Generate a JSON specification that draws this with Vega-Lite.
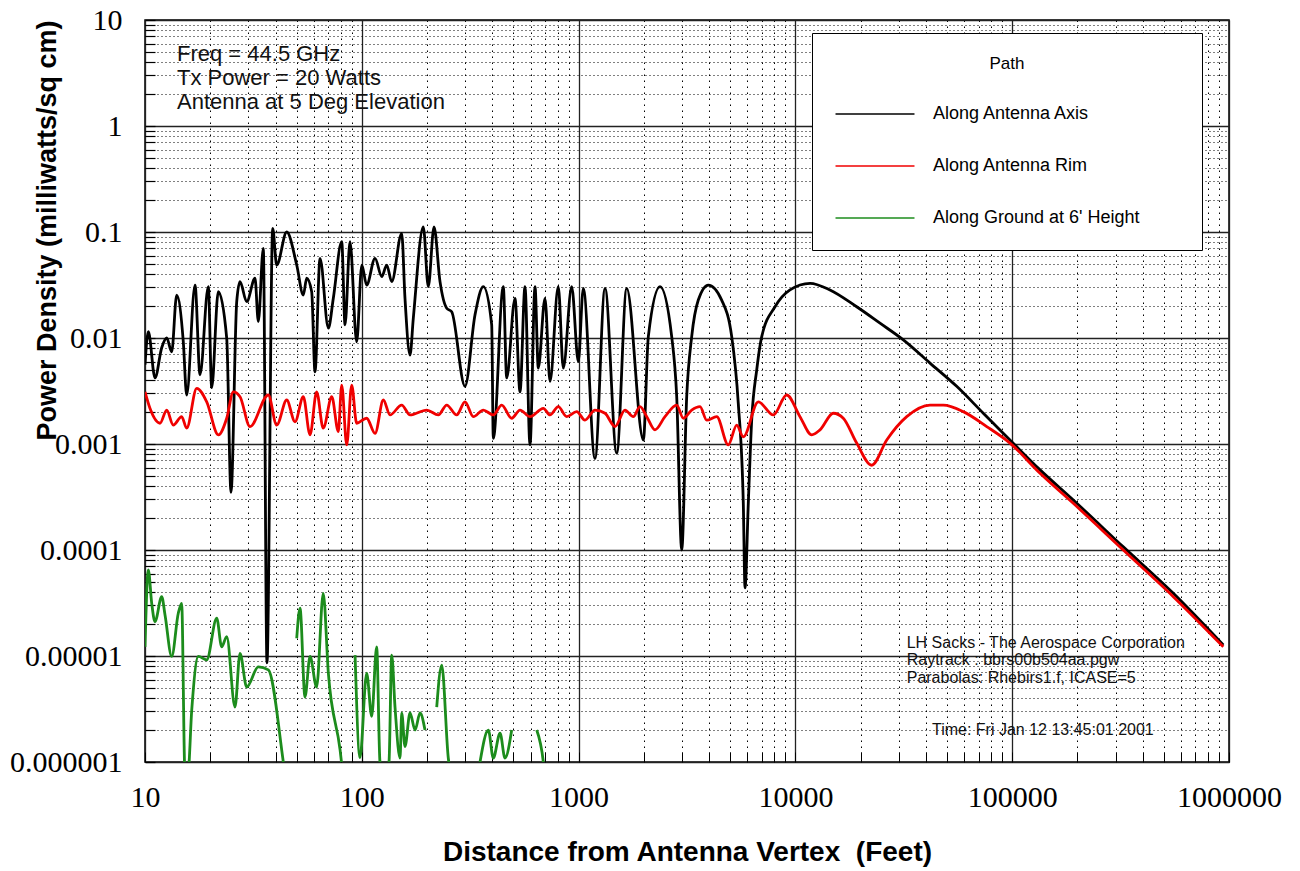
{
  "$schema": "https://vega.github.io/schema/vega-lite/v6.json",
  "width": 1084,
  "height": 742,
  "autosize": {"type": "none"},
  "padding": {"left": 145, "top": 20, "right": 71, "bottom": 109},
  "background": "white",
  "config": {"view": {"stroke": "black", "strokeWidth": 1.5}, "font": "Liberation Sans"},
  "datasets": {
    "curves": [
      {"series": "Along Antenna Axis", "seg": "a", "x": 10, "y": 0.0056},
      {"series": "Along Antenna Axis", "seg": "a", "x": 10.36, "y": 0.0115},
      {"series": "Along Antenna Axis", "seg": "a", "x": 11.12, "y": 0.0042},
      {"series": "Along Antenna Axis", "seg": "a", "x": 11.94, "y": 0.0081},
      {"series": "Along Antenna Axis", "seg": "a", "x": 12.59, "y": 0.01},
      {"series": "Along Antenna Axis", "seg": "a", "x": 13.28, "y": 0.0074},
      {"series": "Along Antenna Axis", "seg": "a", "x": 14.0, "y": 0.0254},
      {"series": "Along Antenna Axis", "seg": "a", "x": 15.02, "y": 0.0092},
      {"series": "Along Antenna Axis", "seg": "a", "x": 15.57, "y": 0.0029},
      {"series": "Along Antenna Axis", "seg": "a", "x": 17.01, "y": 0.0316},
      {"series": "Along Antenna Axis", "seg": "a", "x": 17.94, "y": 0.0045},
      {"series": "Along Antenna Axis", "seg": "a", "x": 19.59, "y": 0.0305},
      {"series": "Along Antenna Axis", "seg": "a", "x": 20.31, "y": 0.0034},
      {"series": "Along Antenna Axis", "seg": "a", "x": 21.78, "y": 0.0273},
      {"series": "Along Antenna Axis", "seg": "a", "x": 23.82, "y": 0.0099},
      {"series": "Along Antenna Axis", "seg": "a", "x": 24.93, "y": 0.00035},
      {"series": "Along Antenna Axis", "seg": "a", "x": 26.49, "y": 0.022},
      {"series": "Along Antenna Axis", "seg": "a", "x": 27.43, "y": 0.034},
      {"series": "Along Antenna Axis", "seg": "a", "x": 29.45, "y": 0.022},
      {"series": "Along Antenna Axis", "seg": "a", "x": 32.17, "y": 0.0366},
      {"series": "Along Antenna Axis", "seg": "a", "x": 33.31, "y": 0.0143},
      {"series": "Along Antenna Axis", "seg": "a", "x": 35.13, "y": 0.0702},
      {"series": "Along Antenna Axis", "seg": "a", "x": 36.53, "y": 0.0000086},
      {"series": "Along Antenna Axis", "seg": "a", "x": 38.82, "y": 0.108},
      {"series": "Along Antenna Axis", "seg": "a", "x": 40.5, "y": 0.0488},
      {"series": "Along Antenna Axis", "seg": "a", "x": 45.04, "y": 0.1},
      {"series": "Along Antenna Axis", "seg": "a", "x": 50.1, "y": 0.0488},
      {"series": "Along Antenna Axis", "seg": "a", "x": 53.73, "y": 0.0254},
      {"series": "Along Antenna Axis", "seg": "a", "x": 55.7, "y": 0.0366},
      {"series": "Along Antenna Axis", "seg": "a", "x": 58.73, "y": 0.0273},
      {"series": "Along Antenna Axis", "seg": "a", "x": 60.83, "y": 0.0048},
      {"series": "Along Antenna Axis", "seg": "a", "x": 64.17, "y": 0.0565},
      {"series": "Along Antenna Axis", "seg": "a", "x": 70.1, "y": 0.0124},
      {"series": "Along Antenna Axis", "seg": "a", "x": 73.9, "y": 0.0237},
      {"series": "Along Antenna Axis", "seg": "a", "x": 80.8, "y": 0.081},
      {"series": "Along Antenna Axis", "seg": "a", "x": 83.7, "y": 0.0133},
      {"series": "Along Antenna Axis", "seg": "a", "x": 88.2, "y": 0.081},
      {"series": "Along Antenna Axis", "seg": "a", "x": 94.7, "y": 0.0092},
      {"series": "Along Antenna Axis", "seg": "a", "x": 100, "y": 0.0488},
      {"series": "Along Antenna Axis", "seg": "a", "x": 105.3, "y": 0.0316},
      {"series": "Along Antenna Axis", "seg": "a", "x": 115.1, "y": 0.0565},
      {"series": "Along Antenna Axis", "seg": "a", "x": 123.6, "y": 0.0379},
      {"series": "Along Antenna Axis", "seg": "a", "x": 130.3, "y": 0.0488},
      {"series": "Along Antenna Axis", "seg": "a", "x": 137.4, "y": 0.034},
      {"series": "Along Antenna Axis", "seg": "a", "x": 152.8, "y": 0.0972},
      {"series": "Along Antenna Axis", "seg": "a", "x": 158.2, "y": 0.0237},
      {"series": "Along Antenna Axis", "seg": "a", "x": 166.9, "y": 0.0069},
      {"series": "Along Antenna Axis", "seg": "a", "x": 172.8, "y": 0.0153},
      {"series": "Along Antenna Axis", "seg": "a", "x": 192.2, "y": 0.112},
      {"series": "Along Antenna Axis", "seg": "a", "x": 202.6, "y": 0.0305},
      {"series": "Along Antenna Axis", "seg": "a", "x": 215.3, "y": 0.112},
      {"series": "Along Antenna Axis", "seg": "a", "x": 229.5, "y": 0.034},
      {"series": "Along Antenna Axis", "seg": "a", "x": 246.4, "y": 0.0191},
      {"series": "Along Antenna Axis", "seg": "a", "x": 259.8, "y": 0.0177},
      {"series": "Along Antenna Axis", "seg": "a", "x": 299.2, "y": 0.0035},
      {"series": "Along Antenna Axis", "seg": "a", "x": 332.7, "y": 0.0165},
      {"series": "Along Antenna Axis", "seg": "a", "x": 363.4, "y": 0.0305},
      {"series": "Along Antenna Axis", "seg": "a", "x": 397.3, "y": 0.0133},
      {"series": "Along Antenna Axis", "seg": "a", "x": 404.2, "y": 0.00113},
      {"series": "Along Antenna Axis", "seg": "a", "x": 449.4, "y": 0.0305},
      {"series": "Along Antenna Axis", "seg": "a", "x": 466, "y": 0.0042},
      {"series": "Along Antenna Axis", "seg": "a", "x": 508.9, "y": 0.0237},
      {"series": "Along Antenna Axis", "seg": "a", "x": 536.7, "y": 0.0031},
      {"series": "Along Antenna Axis", "seg": "a", "x": 565.9, "y": 0.0305},
      {"series": "Along Antenna Axis", "seg": "a", "x": 596.9, "y": 0.00098},
      {"series": "Along Antenna Axis", "seg": "a", "x": 629.4, "y": 0.0305},
      {"series": "Along Antenna Axis", "seg": "a", "x": 651.8, "y": 0.0052},
      {"series": "Along Antenna Axis", "seg": "a", "x": 699.8, "y": 0.0237},
      {"series": "Along Antenna Axis", "seg": "a", "x": 738, "y": 0.0039},
      {"series": "Along Antenna Axis", "seg": "a", "x": 806, "y": 0.0305},
      {"series": "Along Antenna Axis", "seg": "a", "x": 850, "y": 0.0052},
      {"series": "Along Antenna Axis", "seg": "a", "x": 929.3, "y": 0.0305},
      {"series": "Along Antenna Axis", "seg": "a", "x": 996.8, "y": 0.006},
      {"series": "Along Antenna Axis", "seg": "a", "x": 1051, "y": 0.0294},
      {"series": "Along Antenna Axis", "seg": "a", "x": 1190, "y": 0.00073},
      {"series": "Along Antenna Axis", "seg": "a", "x": 1324, "y": 0.0294},
      {"series": "Along Antenna Axis", "seg": "a", "x": 1499, "y": 0.00082},
      {"series": "Along Antenna Axis", "seg": "a", "x": 1667, "y": 0.0294},
      {"series": "Along Antenna Axis", "seg": "a", "x": 1989, "y": 0.00109},
      {"series": "Along Antenna Axis", "seg": "a", "x": 2097, "y": 0.0103},
      {"series": "Along Antenna Axis", "seg": "a", "x": 2374, "y": 0.0305},
      {"series": "Along Antenna Axis", "seg": "a", "x": 2688, "y": 0.0103},
      {"series": "Along Antenna Axis", "seg": "a", "x": 2835, "y": 0.00279},
      {"series": "Along Antenna Axis", "seg": "a", "x": 2990, "y": 0.0001},
      {"series": "Along Antenna Axis", "seg": "a", "x": 3152, "y": 0.00279},
      {"series": "Along Antenna Axis", "seg": "a", "x": 3324, "y": 0.0103},
      {"series": "Along Antenna Axis", "seg": "a", "x": 3565, "y": 0.0228},
      {"series": "Along Antenna Axis", "seg": "a", "x": 3965, "y": 0.0316},
      {"series": "Along Antenna Axis", "seg": "a", "x": 4571, "y": 0.0228},
      {"series": "Along Antenna Axis", "seg": "a", "x": 5085, "y": 0.0103},
      {"series": "Along Antenna Axis", "seg": "a", "x": 5452, "y": 0.00242},
      {"series": "Along Antenna Axis", "seg": "a", "x": 5750, "y": 0.000276},
      {"series": "Along Antenna Axis", "seg": "a", "x": 5856, "y": 0.000044},
      {"series": "Along Antenna Axis", "seg": "a", "x": 6064, "y": 0.000276},
      {"series": "Along Antenna Axis", "seg": "a", "x": 6286, "y": 0.00168},
      {"series": "Along Antenna Axis", "seg": "a", "x": 6630, "y": 0.00499},
      {"series": "Along Antenna Axis", "seg": "a", "x": 6993, "y": 0.0103},
      {"series": "Along Antenna Axis", "seg": "a", "x": 8053, "y": 0.0197},
      {"series": "Along Antenna Axis", "seg": "a", "x": 9443, "y": 0.0284},
      {"series": "Along Antenna Axis", "seg": "a", "x": 11680, "y": 0.0328},
      {"series": "Along Antenna Axis", "seg": "a", "x": 14440, "y": 0.0284},
      {"series": "Along Antenna Axis", "seg": "a", "x": 19170, "y": 0.0197},
      {"series": "Along Antenna Axis", "seg": "a", "x": 24560, "y": 0.0138},
      {"series": "Along Antenna Axis", "seg": "a", "x": 31460, "y": 0.0096},
      {"series": "Along Antenna Axis", "seg": "a", "x": 41770, "y": 0.0058},
      {"series": "Along Antenna Axis", "seg": "a", "x": 55460, "y": 0.0035},
      {"series": "Along Antenna Axis", "seg": "a", "x": 73570, "y": 0.00195},
      {"series": "Along Antenna Axis", "seg": "a", "x": 99470, "y": 0.00105},
      {"series": "Along Antenna Axis", "seg": "a", "x": 134400, "y": 0.00057},
      {"series": "Along Antenna Axis", "seg": "a", "x": 191300, "y": 0.000296},
      {"series": "Along Antenna Axis", "seg": "a", "x": 325400, "y": 0.000107},
      {"series": "Along Antenna Axis", "seg": "a", "x": 553500, "y": 0.000039},
      {"series": "Along Antenna Axis", "seg": "a", "x": 941300, "y": 0.0000127},

      {"series": "Along Antenna Rim", "seg": "r", "x": 10, "y": 0.0031},
      {"series": "Along Antenna Rim", "seg": "r", "x": 10.54, "y": 0.00217},
      {"series": "Along Antenna Rim", "seg": "r", "x": 11.73, "y": 0.00157},
      {"series": "Along Antenna Rim", "seg": "r", "x": 12.59, "y": 0.00209},
      {"series": "Along Antenna Rim", "seg": "r", "x": 13.5, "y": 0.00151},
      {"series": "Along Antenna Rim", "seg": "r", "x": 14.76, "y": 0.00181},
      {"series": "Along Antenna Rim", "seg": "r", "x": 15.57, "y": 0.00141},
      {"series": "Along Antenna Rim", "seg": "r", "x": 17.32, "y": 0.00335},
      {"series": "Along Antenna Rim", "seg": "r", "x": 19.26, "y": 0.0025},
      {"series": "Along Antenna Rim", "seg": "r", "x": 21.78, "y": 0.00122},
      {"series": "Along Antenna Rim", "seg": "r", "x": 23.82, "y": 0.00175},
      {"series": "Along Antenna Rim", "seg": "r", "x": 25.55, "y": 0.0031},
      {"series": "Along Antenna Rim", "seg": "r", "x": 27.43, "y": 0.00279},
      {"series": "Along Antenna Rim", "seg": "r", "x": 30.5, "y": 0.00146},
      {"series": "Along Antenna Rim", "seg": "r", "x": 37.05, "y": 0.0029},
      {"series": "Along Antenna Rim", "seg": "r", "x": 40.5, "y": 0.00151},
      {"series": "Along Antenna Rim", "seg": "r", "x": 45.04, "y": 0.0026},
      {"series": "Along Antenna Rim", "seg": "r", "x": 49.2, "y": 0.00162},
      {"series": "Along Antenna Rim", "seg": "r", "x": 53.73, "y": 0.00279},
      {"series": "Along Antenna Rim", "seg": "r", "x": 57.7, "y": 0.00122},
      {"series": "Along Antenna Rim", "seg": "r", "x": 61.9, "y": 0.0031},
      {"series": "Along Antenna Rim", "seg": "r", "x": 66.4, "y": 0.00141},
      {"series": "Along Antenna Rim", "seg": "r", "x": 72.7, "y": 0.00279},
      {"series": "Along Antenna Rim", "seg": "r", "x": 77.9, "y": 0.00131},
      {"series": "Along Antenna Rim", "seg": "r", "x": 80.8, "y": 0.0036},
      {"series": "Along Antenna Rim", "seg": "r", "x": 85.2, "y": 0.00098},
      {"series": "Along Antenna Rim", "seg": "r", "x": 89.8, "y": 0.0036},
      {"series": "Along Antenna Rim", "seg": "r", "x": 94.7, "y": 0.00157},
      {"series": "Along Antenna Rim", "seg": "r", "x": 105.3, "y": 0.00175},
      {"series": "Along Antenna Rim", "seg": "r", "x": 115.1, "y": 0.00126},
      {"series": "Along Antenna Rim", "seg": "r", "x": 125.7, "y": 0.0026},
      {"series": "Along Antenna Rim", "seg": "r", "x": 134.9, "y": 0.00188},
      {"series": "Along Antenna Rim", "seg": "r", "x": 152.8, "y": 0.00233},
      {"series": "Along Antenna Rim", "seg": "r", "x": 166.9, "y": 0.00188},
      {"series": "Along Antenna Rim", "seg": "r", "x": 199.3, "y": 0.00209},
      {"series": "Along Antenna Rim", "seg": "r", "x": 225.4, "y": 0.00188},
      {"series": "Along Antenna Rim", "seg": "r", "x": 246.4, "y": 0.00233},
      {"series": "Along Antenna Rim", "seg": "r", "x": 274, "y": 0.00188},
      {"series": "Along Antenna Rim", "seg": "r", "x": 299.2, "y": 0.0025},
      {"series": "Along Antenna Rim", "seg": "r", "x": 326.9, "y": 0.00181},
      {"series": "Along Antenna Rim", "seg": "r", "x": 363.4, "y": 0.00209},
      {"series": "Along Antenna Rim", "seg": "r", "x": 404.2, "y": 0.00188},
      {"series": "Along Antenna Rim", "seg": "r", "x": 441.8, "y": 0.00233},
      {"series": "Along Antenna Rim", "seg": "r", "x": 491.3, "y": 0.00175},
      {"series": "Along Antenna Rim", "seg": "r", "x": 536.7, "y": 0.00209},
      {"series": "Along Antenna Rim", "seg": "r", "x": 596.9, "y": 0.00181},
      {"series": "Along Antenna Rim", "seg": "r", "x": 687.6, "y": 0.00217},
      {"series": "Along Antenna Rim", "seg": "r", "x": 738, "y": 0.00188},
      {"series": "Along Antenna Rim", "seg": "r", "x": 806, "y": 0.00225},
      {"series": "Along Antenna Rim", "seg": "r", "x": 881.3, "y": 0.00181},
      {"series": "Along Antenna Rim", "seg": "r", "x": 980, "y": 0.00202},
      {"series": "Along Antenna Rim", "seg": "r", "x": 1070, "y": 0.00168},
      {"series": "Along Antenna Rim", "seg": "r", "x": 1190, "y": 0.00209},
      {"series": "Along Antenna Rim", "seg": "r", "x": 1324, "y": 0.00195},
      {"series": "Along Antenna Rim", "seg": "r", "x": 1472, "y": 0.00146},
      {"series": "Along Antenna Rim", "seg": "r", "x": 1637, "y": 0.00209},
      {"series": "Along Antenna Rim", "seg": "r", "x": 1788, "y": 0.00181},
      {"series": "Along Antenna Rim", "seg": "r", "x": 1920, "y": 0.00225},
      {"series": "Along Antenna Rim", "seg": "r", "x": 2062, "y": 0.00181},
      {"series": "Along Antenna Rim", "seg": "r", "x": 2251, "y": 0.00136},
      {"series": "Along Antenna Rim", "seg": "r", "x": 2503, "y": 0.00181},
      {"series": "Along Antenna Rim", "seg": "r", "x": 2835, "y": 0.00233},
      {"series": "Along Antenna Rim", "seg": "r", "x": 3040, "y": 0.00175},
      {"series": "Along Antenna Rim", "seg": "r", "x": 3324, "y": 0.00209},
      {"series": "Along Antenna Rim", "seg": "r", "x": 3631, "y": 0.00225},
      {"series": "Along Antenna Rim", "seg": "r", "x": 3898, "y": 0.00168},
      {"series": "Along Antenna Rim", "seg": "r", "x": 4335, "y": 0.00181},
      {"series": "Along Antenna Rim", "seg": "r", "x": 4904, "y": 0.00098},
      {"series": "Along Antenna Rim", "seg": "r", "x": 5361, "y": 0.00151},
      {"series": "Along Antenna Rim", "seg": "r", "x": 5750, "y": 0.00117},
      {"series": "Along Antenna Rim", "seg": "r", "x": 6745, "y": 0.0025},
      {"series": "Along Antenna Rim", "seg": "r", "x": 7907, "y": 0.00188},
      {"series": "Along Antenna Rim", "seg": "r", "x": 9117, "y": 0.0029},
      {"series": "Along Antenna Rim", "seg": "r", "x": 10500, "y": 0.00181},
      {"series": "Along Antenna Rim", "seg": "r", "x": 11890, "y": 0.00122},
      {"series": "Along Antenna Rim", "seg": "r", "x": 12990, "y": 0.00136},
      {"series": "Along Antenna Rim", "seg": "r", "x": 14960, "y": 0.00195},
      {"series": "Along Antenna Rim", "seg": "r", "x": 16630, "y": 0.00175},
      {"series": "Along Antenna Rim", "seg": "r", "x": 19170, "y": 0.00102},
      {"series": "Along Antenna Rim", "seg": "r", "x": 22480, "y": 0.00063},
      {"series": "Along Antenna Rim", "seg": "r", "x": 26380, "y": 0.00109},
      {"series": "Along Antenna Rim", "seg": "r", "x": 32620, "y": 0.00181},
      {"series": "Along Antenna Rim", "seg": "r", "x": 41770, "y": 0.00233},
      {"series": "Along Antenna Rim", "seg": "r", "x": 48110, "y": 0.00233},
      {"series": "Along Antenna Rim", "seg": "r", "x": 59500, "y": 0.00202},
      {"series": "Along Antenna Rim", "seg": "r", "x": 76290, "y": 0.00146},
      {"series": "Along Antenna Rim", "seg": "r", "x": 97680, "y": 0.00102},
      {"series": "Along Antenna Rim", "seg": "r", "x": 134400, "y": 0.00053},
      {"series": "Along Antenna Rim", "seg": "r", "x": 191300, "y": 0.000276},
      {"series": "Along Antenna Rim", "seg": "r", "x": 325400, "y": 0.0001},
      {"series": "Along Antenna Rim", "seg": "r", "x": 553500, "y": 0.0000363},
      {"series": "Along Antenna Rim", "seg": "r", "x": 941300, "y": 0.0000122},

      {"series": "Along Ground at 6' Height", "seg": "g1", "x": 10, "y": 0.0000122},
      {"series": "Along Ground at 6' Height", "seg": "g1", "x": 10.36, "y": 0.000065},
      {"series": "Along Ground at 6' Height", "seg": "g1", "x": 10.74, "y": 0.0000314},
      {"series": "Along Ground at 6' Height", "seg": "g1", "x": 11.12, "y": 0.0000211},
      {"series": "Along Ground at 6' Height", "seg": "g1", "x": 11.94, "y": 0.0000363},
      {"series": "Along Ground at 6' Height", "seg": "g1", "x": 12.37, "y": 0.0000244},
      {"series": "Along Ground at 6' Height", "seg": "g1", "x": 13.28, "y": 0.0000099},
      {"series": "Along Ground at 6' Height", "seg": "g1", "x": 14.24, "y": 0.0000253},
      {"series": "Along Ground at 6' Height", "seg": "g1", "x": 14.76, "y": 0.0000314},
      {"series": "Along Ground at 6' Height", "seg": "g1", "x": 15.29, "y": 0.0000008},
      {"series": "Along Ground at 6' Height", "seg": "g1", "x": 15.79, "y": 0.0000008},
      {"series": "Along Ground at 6' Height", "seg": "g1", "x": 16.43, "y": 0.0000031},
      {"series": "Along Ground at 6' Height", "seg": "g1", "x": 17.62, "y": 0.0000099},
      {"series": "Along Ground at 6' Height", "seg": "g1", "x": 19.26, "y": 0.0000092},
      {"series": "Along Ground at 6' Height", "seg": "g1", "x": 21.42, "y": 0.0000227},
      {"series": "Along Ground at 6' Height", "seg": "g1", "x": 22.58, "y": 0.0000122},
      {"series": "Along Ground at 6' Height", "seg": "g1", "x": 23.82, "y": 0.0000152},
      {"series": "Along Ground at 6' Height", "seg": "g1", "x": 26.01, "y": 0.0000033},
      {"series": "Along Ground at 6' Height", "seg": "g1", "x": 27.43, "y": 0.0000106},
      {"series": "Along Ground at 6' Height", "seg": "g1", "x": 29.45, "y": 0.0000051},
      {"series": "Along Ground at 6' Height", "seg": "g1", "x": 33.31, "y": 0.0000079},
      {"series": "Along Ground at 6' Height", "seg": "g1", "x": 37.05, "y": 0.0000074},
      {"series": "Along Ground at 6' Height", "seg": "g1", "x": 43.45, "y": 0.000001},
      {"series": "Along Ground at 6' Height", "seg": "g1", "x": 44.5, "y": 0.0000007},
      {"series": "Along Ground at 6' Height", "seg": "g2", "x": 50.1, "y": 0.0000147},
      {"series": "Along Ground at 6' Height", "seg": "g2", "x": 51.88, "y": 0.0000282},
      {"series": "Along Ground at 6' Height", "seg": "g2", "x": 54.7, "y": 0.0000041},
      {"series": "Along Ground at 6' Height", "seg": "g2", "x": 57.7, "y": 0.0000099},
      {"series": "Along Ground at 6' Height", "seg": "g2", "x": 61.9, "y": 0.0000051},
      {"series": "Along Ground at 6' Height", "seg": "g2", "x": 66.4, "y": 0.000039},
      {"series": "Along Ground at 6' Height", "seg": "g2", "x": 70.1, "y": 0.0000069},
      {"series": "Along Ground at 6' Height", "seg": "g2", "x": 79.4, "y": 0.0000013},
      {"series": "Along Ground at 6' Height", "seg": "g2", "x": 82.2, "y": 0.0000007},
      {"series": "Along Ground at 6' Height", "seg": "g3", "x": 93.1, "y": 0.0000102},
      {"series": "Along Ground at 6' Height", "seg": "g3", "x": 98.1, "y": 0.0000011},
      {"series": "Along Ground at 6' Height", "seg": "g3", "x": 105.3, "y": 0.0000069},
      {"series": "Along Ground at 6' Height", "seg": "g3", "x": 111.1, "y": 0.0000027},
      {"series": "Along Ground at 6' Height", "seg": "g3", "x": 117.1, "y": 0.0000122},
      {"series": "Along Ground at 6' Height", "seg": "g3", "x": 121.3, "y": 0.000001},
      {"series": "Along Ground at 6' Height", "seg": "g3", "x": 127.9, "y": 0.0000007},
      {"series": "Along Ground at 6' Height", "seg": "g3", "x": 133.5, "y": 0.000001},
      {"series": "Along Ground at 6' Height", "seg": "g3", "x": 137.4, "y": 0.0000102},
      {"series": "Along Ground at 6' Height", "seg": "g3", "x": 142.3, "y": 0.0000033},
      {"series": "Along Ground at 6' Height", "seg": "g3", "x": 150.1, "y": 0.00000109},
      {"series": "Along Ground at 6' Height", "seg": "g3", "x": 152.8, "y": 0.0000029},
      {"series": "Along Ground at 6' Height", "seg": "g3", "x": 158.2, "y": 0.0000014},
      {"series": "Along Ground at 6' Height", "seg": "g3", "x": 166.9, "y": 0.0000029},
      {"series": "Along Ground at 6' Height", "seg": "g3", "x": 176.1, "y": 0.000002},
      {"series": "Along Ground at 6' Height", "seg": "g3", "x": 185.6, "y": 0.0000029},
      {"series": "Along Ground at 6' Height", "seg": "g3", "x": 195.7, "y": 0.000002},
      {"series": "Along Ground at 6' Height", "seg": "g4", "x": 221.6, "y": 0.0000033},
      {"series": "Along Ground at 6' Height", "seg": "g4", "x": 233.7, "y": 0.0000082},
      {"series": "Along Ground at 6' Height", "seg": "g4", "x": 250.6, "y": 0.00000109},
      {"series": "Along Ground at 6' Height", "seg": "g4", "x": 260.6, "y": 0.0000007},
      {"series": "Along Ground at 6' Height", "seg": "g5", "x": 351, "y": 0.000001},
      {"series": "Along Ground at 6' Height", "seg": "g5", "x": 383.4, "y": 0.000002},
      {"series": "Along Ground at 6' Height", "seg": "g5", "x": 404.2, "y": 0.00000109},
      {"series": "Along Ground at 6' Height", "seg": "g5", "x": 434.1, "y": 0.00000187},
      {"series": "Along Ground at 6' Height", "seg": "g5", "x": 457.7, "y": 0.00000109},
      {"series": "Along Ground at 6' Height", "seg": "g5", "x": 491.3, "y": 0.000002},
      {"series": "Along Ground at 6' Height", "seg": "g6", "x": 640.9, "y": 0.000002},
      {"series": "Along Ground at 6' Height", "seg": "g6", "x": 687.6, "y": 0.000001},
      {"series": "Along Ground at 6' Height", "seg": "g6", "x": 699.8, "y": 0.0000007}
    ]
  },
  "layer": [
    {
      "data": {"name": "curves"},
      "mark": {"type": "line", "clip": true, "strokeWidth": 2.8, "interpolate": "monotone"},
      "encoding": {
        "x": {
          "field": "x", "type": "quantitative",
          "scale": {"type": "log", "domain": [10, 1000000], "nice": false},
          "axis": {
            "values": [10,20,30,40,50,60,70,80,90,100,200,300,400,500,600,700,800,900,1000,2000,3000,4000,5000,6000,7000,8000,9000,10000,20000,30000,40000,50000,60000,70000,80000,90000,100000,200000,300000,400000,500000,600000,700000,800000,900000,1000000],
            "domain": false,
            "grid": true,
            "gridColor": {"condition": {"test": "abs(log(datum.value)/LN10 - round(log(datum.value)/LN10)) < 0.01", "value": "#222222"}, "value": "#000000"},
            "gridDash": {"condition": {"test": "abs(log(datum.value)/LN10 - round(log(datum.value)/LN10)) < 0.01", "value": []}, "value": [1.5, 4.5]},
            "gridWidth": {"condition": {"test": "abs(log(datum.value)/LN10 - round(log(datum.value)/LN10)) < 0.01", "value": 1.3}, "value": 1},
            "ticks": true,
            "tickSize": -10,
            "tickColor": "#000000",
            "tickWidth": 1,
            "labelExpr": "abs(log(datum.value)/LN10 - round(log(datum.value)/LN10)) < 0.01 ? format(datum.value, 'd') : ''",
            "labelOverlap": false,
            "labelFlush": false,
            "labelFont": "Liberation Serif",
            "labelFontSize": 30,
            "labelColor": "#000000",
            "labelPadding": 30,
            "title": "Distance from Antenna Vertex \u00a0(Feet)",
            "titleFont": "Liberation Sans",
            "titleFontSize": 28,
            "titleFontWeight": "bold",
            "titleColor": "#000000",
            "titleY": 98,
            "titleBaseline": "alphabetic"
          }
        },
        "y": {
          "field": "y", "type": "quantitative",
          "scale": {"type": "log", "domain": [0.000001, 10], "nice": false},
          "axis": {
            "values": [0.000001,0.000002,0.000003,0.000004,0.000005,0.000006,0.000007,0.000008,0.000009,0.00001,0.00002,0.00003,0.00004,0.00005,0.00006,0.00007,0.00008,0.00009,0.0001,0.0002,0.0003,0.0004,0.0005,0.0006,0.0007,0.0008,0.0009,0.001,0.002,0.003,0.004,0.005,0.006,0.007,0.008,0.009,0.01,0.02,0.03,0.04,0.05,0.06,0.07,0.08,0.09,0.1,0.2,0.3,0.4,0.5,0.6,0.7,0.8,0.9,1,2,3,4,5,6,7,8,9,10],
            "domain": false,
            "grid": true,
            "gridColor": {"condition": {"test": "abs(log(datum.value)/LN10 - round(log(datum.value)/LN10)) < 0.01", "value": "#222222"}, "value": "#000000"},
            "gridDash": {"condition": {"test": "abs(log(datum.value)/LN10 - round(log(datum.value)/LN10)) < 0.01", "value": []}, "value": [1, 3]},
            "gridWidth": {"condition": {"test": "abs(log(datum.value)/LN10 - round(log(datum.value)/LN10)) < 0.01", "value": 1.3}, "value": 1},
            "ticks": true,
            "tickSize": -10,
            "tickColor": "#000000",
            "tickWidth": 1.2,
            "labelExpr": "abs(log(datum.value)/LN10 - round(log(datum.value)/LN10)) < 0.01 ? format(datum.value, '~f') : ''",
            "labelOverlap": false,
            "labelFlush": false,
            "labelFont": "Liberation Serif",
            "labelFontSize": 30,
            "labelColor": "#000000",
            "labelPadding": 33,
            "title": "Power Density (milliwatts/sq cm)",
            "titleFont": "Liberation Sans",
            "titleFontSize": 27,
            "titleFontWeight": "bold",
            "titleColor": "#000000",
            "titleAnchor": "end",
            "titleX": -98,
            "titleBaseline": "middle"
          }
        },
        "color": {
          "field": "series", "type": "nominal",
          "scale": {"domain": ["Along Antenna Axis", "Along Antenna Rim", "Along Ground at 6' Height"], "range": ["#000000", "#f00000", "#1c8c1c"]},
          "legend": {
            "orient": "none",
            "legendX": 667,
            "legendY": 13,
            "title": "Path",
            "titleAnchor": "middle",
            "titleFont": "Liberation Sans",
            "titleFontSize": 17,
            "titleFontWeight": "normal",
            "titleColor": "#000000",
            "titlePadding": 27,
            "labelFont": "Liberation Sans",
            "labelFontSize": 18,
            "labelColor": "#000000",
            "labelOffset": 44,
            "labelLimit": 500,
            "labelExpr": "datum.label + '\u2800\u2800\u2800'",
            "symbolType": "M-3,0H3",
            "symbolSize": 693,
            "symbolOffset": 26,
            "symbolStrokeWidth": 1.5,
            "rowPadding": 29,
            "padding": 23,
            "strokeColor": "#000000",
            "fillColor": "#ffffff"
          }
        },
        "detail": {"field": "seg"}
      }
    },
    {
      "data": {"values": [{}]},
      "mark": {"type": "text", "align": "left", "baseline": "alphabetic", "font": "Liberation Sans", "fontSize": 22, "lineHeight": 24, "color": "#111111"},
      "encoding": {
        "x": {"datum": 14.05, "type": "quantitative"},
        "y": {"datum": 4.1, "type": "quantitative"},
        "text": {"value": ["Freq = 44.5 GHz", "Tx Power = 20 Watts", "Antenna at 5 Deg Elevation"]}
      }
    },
    {
      "data": {"values": [{}]},
      "mark": {"type": "text", "align": "left", "baseline": "alphabetic", "font": "Liberation Sans", "fontSize": 16, "lineHeight": 17.5, "color": "#111111"},
      "encoding": {
        "x": {"datum": 32620, "type": "quantitative"},
        "y": {"datum": 0.0000119, "type": "quantitative"},
        "text": {"value": ["LH Sacks - The Aerospace Corporation", "Raytrack : bbrs00b504aa.pgw", "Parabolas: Rhebirs1.f, ICASE=5"]}
      }
    },
    {
      "data": {"values": [{}]},
      "mark": {"type": "text", "align": "left", "baseline": "alphabetic", "font": "Liberation Sans", "fontSize": 16, "color": "#111111"},
      "encoding": {
        "x": {"datum": 42660, "type": "quantitative"},
        "y": {"datum": 0.0000018, "type": "quantitative"},
        "text": {"value": "Time: Fri Jan 12 13:45:01 2001"}
      }
    }
  ]
}
